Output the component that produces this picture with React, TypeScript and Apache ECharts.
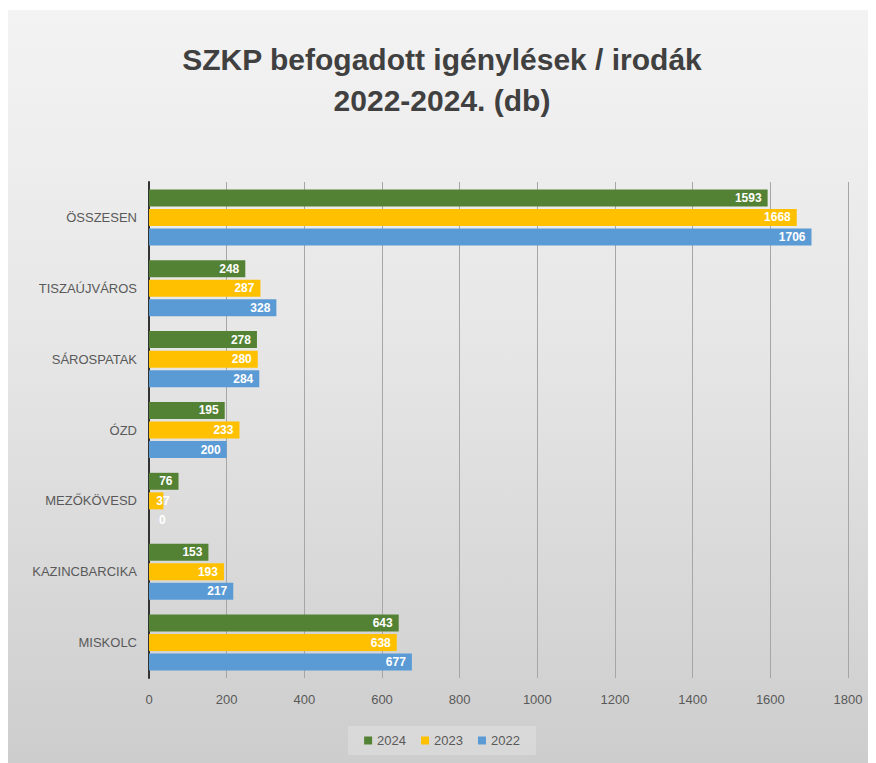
import React, { useEffect, useRef } from "react";
import * as echarts from "echarts";

const categories = ["MISKOLC", "KAZINCBARCIKA", "MEZŐKÖVESD", "ÓZD", "SÁROSPATAK", "TISZAÚJVÁROS", "ÖSSZESEN"];
const values2024 = [643, 153, 76, 195, 278, 248, 1593];
const values2023 = [638, 193, 37, 233, 280, 287, 1668];
const values2022 = [677, 217, 0, 200, 284, 328, 1706];
const legendOrder = ["2024", "2023", "2022"];

const FONT = "'Liberation Sans', sans-serif";

function toItems(vals: number[]) {
  return vals.map((v) => {
    if (v === 0) return { value: v, label: { position: "right", distance: 10 } };
    if (v < 50) return { value: v, label: { position: "right", distance: -7 } };
    return v;
  });
}

export default function App() {
  const ref = useRef<HTMLDivElement>(null);
  useEffect(() => {
    if (!ref.current) return;
    const chart = echarts.init(ref.current, null, { renderer: "svg" });
    const label = {
      show: true,
      position: "insideRight",
      color: "#ffffff",
      fontSize: 12,
      fontWeight: "bold",
      fontFamily: FONT,
      distance: 6,
    };
    chart.setOption({
      animation: false,
      title: {
        text: "SZKP befogadott igénylések / irodák\n2022-2024. (db)",
        left: "center",
        top: 24,
        textStyle: {
          fontFamily: FONT,
          fontSize: 30,
          fontWeight: "bold",
          color: "#404040",
          lineHeight: 41,
        },
      },
      legend: {
        data: legendOrder,
        bottom: 8,
        left: "center",
        itemWidth: 8,
        itemHeight: 8,
        itemGap: 15,
        icon: "rect",
        padding: [8, 16],
        backgroundColor: "rgba(255,255,255,0.22)",
        textStyle: { color: "#595959", fontSize: 13, fontFamily: FONT },
      },
      grid: { left: 141, right: 28, top: 172, bottom: 85 },
      xAxis: {
        type: "value",
        min: 0,
        max: 1800,
        interval: 200,
        axisLine: { show: false },
        axisTick: { show: false },
        splitLine: { show: true, lineStyle: { color: "#a6a6a6", width: 1 } },
        axisLabel: { color: "#595959", fontSize: 13, fontFamily: FONT, margin: 15, formatter: (v: number) => String(v) },
      },
      yAxis: {
        type: "category",
        data: categories,
        axisLine: { show: true, lineStyle: { color: "#333333", width: 2 } },
        axisTick: { show: false },
        axisLabel: { color: "#595959", fontSize: 13, fontFamily: FONT, margin: 12 },
      },
      series: [
        { name: "2024", type: "bar", data: toItems(values2024), itemStyle: { color: "#548235" }, barWidth: 17, barGap: "15%", label },
        { name: "2023", type: "bar", data: toItems(values2023), itemStyle: { color: "#ffc000" }, barWidth: 17, barGap: "15%", label },
        { name: "2022", type: "bar", data: toItems(values2022), itemStyle: { color: "#5b9bd5" }, barWidth: 17, barGap: "15%", label },
      ],
    });
    return () => chart.dispose();
  }, []);
  return (
    <div
      style={{
        marginTop: 2,
        width: 868,
        height: 753,
        background: "linear-gradient(to bottom, #f3f3f3 0%, #e6e6e6 45%, #cdcdcd 100%)",
      }}
    >
      <div ref={ref} style={{ width: 868, height: 753 }} />
    </div>
  );
}
